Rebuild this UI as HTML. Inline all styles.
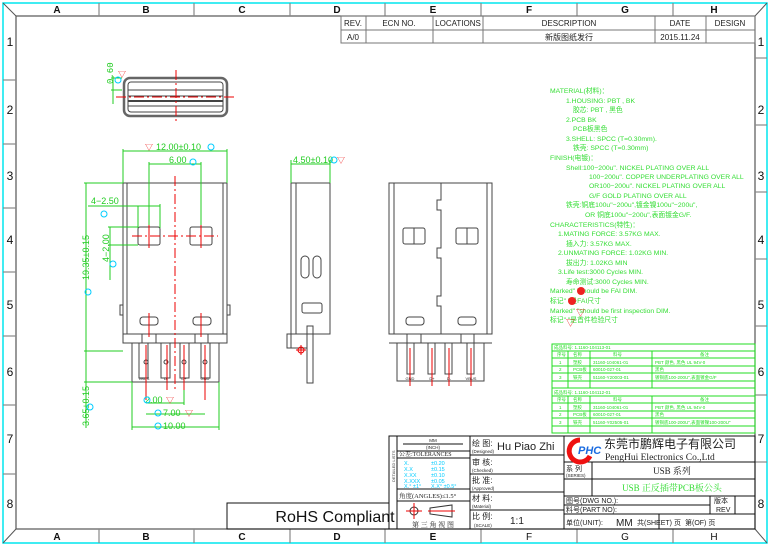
<!DOCTYPE html>
<html><head><meta charset="utf-8"><style>
html,body{margin:0;padding:0;background:#fff}
svg{display:block}
text{font-family:"Liberation Sans","Noto Sans CJK SC",sans-serif}
.s{font-family:"Liberation Serif","Noto Serif CJK SC",serif}
.m{font-family:"Liberation Mono","Noto Sans CJK SC",monospace}
</style></head><body>
<svg width="770" height="546" viewBox="0 0 770 546" xmlns="http://www.w3.org/2000/svg">
<!-- frame -->
<rect x="3" y="3" width="764" height="540" fill="none" stroke="#00e5ee" stroke-width="1.5"/>
<rect x="16" y="16" width="739" height="513" fill="none" stroke="#555" stroke-width="1.2"/>
<line x1="3" y1="3" x2="16" y2="16" stroke="#555"/><line x1="767" y1="3" x2="755" y2="16" stroke="#555"/>
<line x1="3" y1="543" x2="16" y2="529" stroke="#555"/><line x1="767" y1="543" x2="755" y2="529" stroke="#555"/>
<g stroke="#888" stroke-width="1.2">
<line x1="99" y1="3" x2="99" y2="16"/><line x1="194" y1="3" x2="194" y2="16"/><line x1="290" y1="3" x2="290" y2="16"/><line x1="385" y1="3" x2="385" y2="16"/><line x1="481" y1="3" x2="481" y2="16"/><line x1="577" y1="3" x2="577" y2="16"/><line x1="673" y1="3" x2="673" y2="16"/>
<line x1="99" y1="529" x2="99" y2="543"/><line x1="194" y1="529" x2="194" y2="543"/><line x1="290" y1="529" x2="290" y2="543"/><line x1="385" y1="529" x2="385" y2="543"/><line x1="481" y1="529" x2="481" y2="543"/><line x1="577" y1="529" x2="577" y2="543"/><line x1="673" y1="529" x2="673" y2="543"/>
<line x1="3" y1="80" x2="16" y2="80"/><line x1="3" y1="144" x2="16" y2="144"/><line x1="3" y1="208" x2="16" y2="208"/><line x1="3" y1="272" x2="16" y2="272"/><line x1="3" y1="336" x2="16" y2="336"/><line x1="3" y1="405" x2="16" y2="405"/><line x1="3" y1="474" x2="16" y2="474"/>
<line x1="755" y1="58" x2="767" y2="58"/><line x1="755" y1="125" x2="767" y2="125"/><line x1="755" y1="192" x2="767" y2="192"/><line x1="755" y1="259" x2="767" y2="259"/><line x1="755" y1="326" x2="767" y2="326"/><line x1="755" y1="395" x2="767" y2="395"/><line x1="755" y1="462" x2="767" y2="462"/>
</g>
<g font-size="10" font-weight="bold" text-anchor="middle" fill="#111">
<text x="57" y="13">A</text><text x="146" y="13">B</text><text x="242" y="13">C</text><text x="337" y="13">D</text><text x="433" y="13">E</text><text x="529" y="13">F</text><text x="625" y="13">G</text><text x="714" y="13">H</text>
<text x="57" y="540">A</text><text x="146" y="540">B</text><text x="242" y="540">C</text><text x="337" y="540">D</text><text x="433" y="540">E</text><text x="529" y="540" font-weight="normal">F</text><text x="625" y="540" font-weight="normal">G</text><text x="714" y="540" font-weight="normal">H</text>
</g>
<g font-size="12" text-anchor="middle" fill="#111">
<text x="10" y="46">1</text><text x="10" y="114">2</text><text x="10" y="180">3</text><text x="10" y="244">4</text><text x="10" y="309">5</text><text x="10" y="376">6</text><text x="10" y="443">7</text><text x="10" y="508">8</text>
<text x="761" y="46">1</text><text x="761" y="114">2</text><text x="761" y="180">3</text><text x="761" y="244">4</text><text x="761" y="309">5</text><text x="761" y="376">6</text><text x="761" y="443">7</text><text x="761" y="508">8</text>
</g>
<!-- revision table -->
<g stroke="#777" fill="none">
<rect x="341" y="16" width="414" height="27"/>
<line x1="341" y1="30" x2="755" y2="30"/>
<line x1="366" y1="16" x2="366" y2="43"/><line x1="433" y1="16" x2="433" y2="43"/><line x1="483" y1="16" x2="483" y2="43"/><line x1="655" y1="16" x2="655" y2="43"/><line x1="706" y1="16" x2="706" y2="43"/>
</g>
<g font-size="8" fill="#222" text-anchor="middle">
<text x="353" y="26">REV.</text><text x="399" y="26">ECN  NO.</text><text x="458" y="26">LOCATIONS</text><text x="569" y="26">DESCRIPTION</text><text x="680" y="26">DATE</text><text x="730" y="26">DESIGN</text>
<text x="353" y="40">A/0</text><text x="569" y="40">新版图纸发行</text><text x="680" y="40">2015.11.24</text>
</g>
<!-- top view -->
<g fill="none" stroke="#444">
<rect x="124" y="78" width="103" height="38" rx="6" stroke-width="2.5" stroke="#666"/>
<rect x="128" y="82" width="95" height="30" rx="3"/>
<line x1="128" y1="90" x2="223" y2="90"/><line x1="128" y1="96" x2="223" y2="96"/><line x1="128" y1="101" x2="223" y2="101" stroke-width="2"/><line x1="128" y1="106" x2="223" y2="106"/>
</g>
<g stroke="#e00" stroke-dasharray="10,3,2,3"><line x1="176" y1="70" x2="176" y2="124"/><line x1="116" y1="97" x2="236" y2="97"/></g>
<g stroke="#2c2"><line x1="111" y1="78" x2="122" y2="78"/><line x1="111" y1="90" x2="122" y2="90"/><line x1="113" y1="76" x2="113" y2="104"/></g>
<text x="113" y="84" font-size="9" fill="#2c2" transform="rotate(-90 113 84)" class="m">0.60</text>
<text x="118" y="77" font-size="8" fill="#e22">▽</text><circle cx="118" cy="80" r="3" fill="none" stroke="#0cf"/>
<!-- front view -->
<g fill="none" stroke="#444">
<rect x="123" y="183" width="104" height="160"/>
<line x1="127" y1="183" x2="127" y2="334"/><line x1="223" y1="183" x2="223" y2="334"/>
<line x1="123" y1="334" x2="227" y2="334"/>
<rect x="138" y="227" width="22" height="18" rx="2"/><rect x="190" y="227" width="22" height="18" rx="2"/>
<rect x="140" y="317" width="18" height="8" rx="3"/><rect x="193" y="317" width="18" height="8" rx="3"/>
<rect x="120" y="305" width="3" height="10"/><rect x="227" y="305" width="3" height="10"/>
<path d="M132 343 V382 H219 V343"/>
<path d="M139 343 V378 H148 V343 M161 343 V378 H170 V343 M180 343 V378 H189 V343 M201 343 V378 H210 V343"/>
<line x1="142" y1="334" x2="142" y2="343"/><line x1="156" y1="334" x2="156" y2="343"/><line x1="195" y1="334" x2="195" y2="343"/><line x1="208" y1="334" x2="208" y2="343"/>
<circle cx="146" cy="362" r="2"/><circle cx="166" cy="362" r="2"/><circle cx="184" cy="362" r="2"/><circle cx="205" cy="362" r="2"/>
</g>
<g font-size="4" fill="#222" text-anchor="middle"><text x="144" y="380">VBUS</text><text x="166" y="380">D-</text><text x="184" y="380">D+</text><text x="205" y="380">GND</text></g>
<g stroke="#e00" stroke-dasharray="10,3,2,3"><line x1="175" y1="176" x2="175" y2="392"/><line x1="132" y1="236" x2="218" y2="236"/></g>
<g stroke="#e00"><line x1="149" y1="224" x2="149" y2="248"/><line x1="201" y1="224" x2="201" y2="248"/><line x1="149" y1="313" x2="149" y2="337"/><line x1="201" y1="313" x2="201" y2="337"/><line x1="146" y1="345" x2="146" y2="400"/><line x1="167" y1="345" x2="167" y2="390"/><line x1="184" y1="345" x2="184" y2="390"/><line x1="205" y1="345" x2="205" y2="400"/></g>
<g stroke="#2c2" fill="none">
<line x1="123" y1="151" x2="227" y2="151"/><line x1="123" y1="149" x2="123" y2="183"/><line x1="227" y1="149" x2="227" y2="183"/>
<line x1="149" y1="164" x2="201" y2="164"/><line x1="149" y1="162" x2="149" y2="225"/><line x1="201" y1="162" x2="201" y2="225"/>
<line x1="88" y1="206" x2="160" y2="206"/><line x1="138" y1="206" x2="138" y2="228"/><line x1="160" y1="204" x2="160" y2="228"/>
<line x1="108" y1="227" x2="138" y2="227"/><line x1="108" y1="245" x2="138" y2="245"/><line x1="110" y1="227" x2="110" y2="280"/>
<line x1="84" y1="183" x2="123" y2="183"/><line x1="84" y1="351" x2="123" y2="351"/><line x1="86" y1="183" x2="86" y2="428"/>
<line x1="84" y1="382" x2="132" y2="382"/>
<line x1="132" y1="382" x2="132" y2="430"/><line x1="219" y1="382" x2="219" y2="430"/><line x1="132" y1="427" x2="219" y2="427"/>
<line x1="146" y1="414" x2="205" y2="414"/><line x1="146" y1="403" x2="184" y2="403"/><line x1="184" y1="390" x2="184" y2="405"/>
</g>
<g font-size="9" fill="#2c2" class="m">
<text x="156" y="150">12.00±0.10</text><text x="169" y="163">6.00</text>
<text x="91" y="204">4−2.50</text>
<text x="109" y="262" transform="rotate(-90 109 262)">4−2.00</text>
<text x="89" y="280" transform="rotate(-90 89 280)">19.35±0.15</text>
<text x="89" y="426" transform="rotate(-90 89 426)">3.65±0.15</text>
<text x="145" y="403">2.00</text><text x="163" y="416">7.00</text><text x="163" y="429">10.00</text>
<text x="293" y="163">4.50±0.10</text>
</g>
<g fill="none" stroke="#0cf"><circle cx="211" cy="147" r="3"/><circle cx="193" cy="162" r="3"/><circle cx="104" cy="214" r="3"/><circle cx="113" cy="264" r="3"/><circle cx="88" cy="292" r="3"/><circle cx="90" cy="407" r="3"/><circle cx="147" cy="400" r="3"/><circle cx="158" cy="413" r="3"/><circle cx="158" cy="426" r="3"/><circle cx="334" cy="160" r="3"/></g>
<g font-size="8" fill="#e22"><text x="145" y="150">▽</text><text x="166" y="403">▽</text><text x="185" y="416">▽</text><text x="337" y="163">▽</text></g>
<!-- side view -->
<g fill="none" stroke="#444">
<rect x="291" y="183" width="39" height="151"/><line x1="296" y1="183" x2="296" y2="334"/>
<rect x="307" y="326" width="6" height="57"/>
<rect x="287" y="334" width="4" height="14"/><line x1="287" y1="348" x2="307" y2="348"/>
<rect x="301" y="256" width="8" height="22" rx="4"/><rect x="313" y="256" width="8" height="22" rx="4"/>
<rect x="302" y="303" width="20" height="10" rx="2"/>
</g>
<g stroke="#e00"><line x1="296" y1="350" x2="306" y2="350"/><line x1="301" y1="345" x2="301" y2="355"/></g><circle cx="301" cy="350" r="3" fill="none" stroke="#e00"/>
<g stroke="#2c2"><line x1="291" y1="164" x2="330" y2="164"/><line x1="291" y1="160" x2="291" y2="183"/><line x1="330" y1="160" x2="330" y2="183"/></g>
<!-- rear view -->
<g fill="none" stroke="#444">
<rect x="389" y="183" width="103" height="151"/><line x1="394" y1="183" x2="394" y2="334"/><line x1="487" y1="183" x2="487" y2="334"/>
<path d="M441 183 V200 h-4 v10 h4 V248 h-4 v10 h4 V296 h-4 v10 h4 V334"/>
<rect x="403" y="228" width="22" height="16" rx="2"/><rect x="456" y="228" width="22" height="16" rx="2"/>
<line x1="414" y1="228" x2="414" y2="244"/><line x1="467" y1="228" x2="467" y2="244"/>
<rect x="406" y="317" width="18" height="8" rx="3"/><rect x="458" y="317" width="18" height="8" rx="3"/>
<path d="M397 343 V381 H484 V343"/><line x1="389" y1="343" x2="492" y2="343"/>
<path d="M407 343 V374 H414 V343 M428 343 V374 H435 V343 M445 343 V374 H452 V343 M467 343 V374 H474 V343"/>
<line x1="407" y1="334" x2="407" y2="343"/><line x1="421" y1="334" x2="421" y2="343"/><line x1="461" y1="334" x2="461" y2="343"/><line x1="474" y1="334" x2="474" y2="343"/>
</g>
<g stroke="#e00"><line x1="410" y1="348" x2="410" y2="386"/><line x1="432" y1="348" x2="432" y2="386"/><line x1="449" y1="348" x2="449" y2="386"/><line x1="471" y1="348" x2="471" y2="386"/></g>
<g font-size="4" fill="#222" text-anchor="middle"><text x="410" y="380">GND</text><text x="432" y="380">D+</text><text x="449" y="380">D-</text><text x="471" y="380">VBUS</text></g>
<!-- notes -->
<g font-size="6.8" fill="#33dd33" class="m">
<text x="550" y="93">MATERIAL(材料)：</text>
<text x="566" y="103">1.HOUSING: PBT , BK</text>
<text x="573" y="112">胶芯:  PBT , 黑色</text>
<text x="566" y="122">2.PCB  BK</text>
<text x="573" y="131">PCB板黑色</text>
<text x="566" y="141">3.SHELL: SPCC (T=0.30mm).</text>
<text x="573" y="150">铁壳: SPCC  (T=0.30mm)</text>
<text x="550" y="160">FINISH(电镀)：</text>
<text x="566" y="170">Shell:100−200u". NICKEL PLATING OVER ALL</text>
<text x="589" y="179">100−200u". COPPER UNDERPLATING OVER ALL</text>
<text x="589" y="188">OR100−200u". NICKEL PLATING OVER ALL</text>
<text x="589" y="198">G/F GOLD PLATING OVER ALL</text>
<text x="566" y="207">铁壳:铜底100u"−200u",镀金镍100u"−200u",</text>
<text x="585" y="217">OR 铜底100u"−200u",表面镀金G/F.</text>
<text x="550" y="227">CHARACTERISTICS(特性)：</text>
<text x="558" y="236">1.MATING FORCE: 3.57KG MAX.</text>
<text x="566" y="246">插入力: 3.57KG MAX.</text>
<text x="558" y="255">2.UNMATING FORCE: 1.02KG MIN.</text>
<text x="566" y="265">拔出力: 1.02KG MIN</text>
<text x="558" y="274">3.Life test:3000 Cycles MIN.</text>
<text x="566" y="284">寿命测试:3000 Cycles MIN.</text>
<text x="550" y="293">Marked"    "should be FAI DIM.</text>
<text x="550" y="303">标记"    "是FAI尺寸</text>
<text x="550" y="313">Marked"   "should be first inspection DIM.</text>
<text x="550" y="322">标记"   "是首件检验尺寸</text>
</g>
<circle cx="581" cy="291" r="4" fill="#e22"/><circle cx="572" cy="301" r="4" fill="#e22"/>
<g font-size="9" fill="#e22"><text x="576" y="316">▽</text><text x="566" y="326">▽</text></g>
<!-- green table -->
<g stroke="#2d2" fill="none">
<rect x="552" y="344" width="203" height="89"/>
<line x1="552" y1="351" x2="755" y2="351"/><line x1="552" y1="358" x2="755" y2="358"/><line x1="552" y1="366" x2="755" y2="366"/><line x1="552" y1="373" x2="755" y2="373"/><line x1="552" y1="381" x2="755" y2="381"/><line x1="552" y1="388" x2="755" y2="388"/><line x1="552" y1="396" x2="755" y2="396"/><line x1="552" y1="403" x2="755" y2="403"/><line x1="552" y1="411" x2="755" y2="411"/><line x1="552" y1="418" x2="755" y2="418"/><line x1="552" y1="426" x2="755" y2="426"/>
<path d="M568 351V388 M590 351V388 M652 351V388 M568 396V433 M590 396V433 M652 396V433"/>
</g>
<g font-size="4.5" fill="#2d2">
<text x="554" y="349">成品料号: 1.1160-104113-01</text>
<text x="557" y="356">序号</text><text x="573" y="356">名称</text><text x="613" y="356">料号</text><text x="700" y="356">备注</text>
<text x="559" y="364">1</text><text x="573" y="364">塑胶</text><text x="593" y="364">31160-104061-01</text><text x="655" y="364">PBT 颜色, 黑色 UL 94V-0</text>
<text x="559" y="371">2</text><text x="573" y="371">PCB板</text><text x="593" y="371">60010-027-01</text><text x="655" y="371">黑色</text>
<text x="559" y="379">3</text><text x="573" y="379">铁壳</text><text x="593" y="379">51160-Y20003-01</text><text x="655" y="379">镀铜底100-200U",表面镀金G/F</text>
<text x="554" y="394">成品料号: 1.1160-104112-01</text>
<text x="557" y="401">序号</text><text x="573" y="401">名称</text><text x="613" y="401">料号</text><text x="700" y="401">备注</text>
<text x="559" y="409">1</text><text x="573" y="409">塑胶</text><text x="593" y="409">31160-104061-01</text><text x="655" y="409">PBT 颜色, 黑色 UL 94V-0</text>
<text x="559" y="416">2</text><text x="573" y="416">PCB板</text><text x="593" y="416">60010-027-01</text><text x="655" y="416">黑色</text>
<text x="559" y="424">3</text><text x="573" y="424">铁壳</text><text x="593" y="424">51160-Y02505-01</text><text x="655" y="424">镀铜底100-200U",表面镀镍100-200U"</text>
</g>
<!-- title block -->
<g stroke="#111" fill="none" stroke-width="1">
<rect x="227" y="503" width="162" height="26"/>
<rect x="389" y="436" width="366" height="93"/>
<line x1="397" y1="436" x2="397" y2="529"/><line x1="470" y1="436" x2="470" y2="529"/><line x1="564" y1="436" x2="564" y2="529"/>
<line x1="397" y1="451" x2="470" y2="451"/><line x1="397" y1="458" x2="470" y2="458"/><line x1="397" y1="489" x2="470" y2="489"/><line x1="397" y1="501" x2="470" y2="501"/>
<line x1="470" y1="455" x2="564" y2="455"/><line x1="470" y1="474" x2="564" y2="474"/><line x1="470" y1="492" x2="564" y2="492"/><line x1="470" y1="510" x2="564" y2="510"/>
<line x1="564" y1="462" x2="755" y2="462"/><line x1="564" y1="479" x2="755" y2="479"/><line x1="564" y1="496" x2="755" y2="496"/><line x1="564" y1="505" x2="710" y2="505"/><line x1="564" y1="514" x2="755" y2="514"/>
<line x1="592" y1="462" x2="592" y2="496"/><line x1="710" y1="496" x2="710" y2="514"/><line x1="735" y1="496" x2="735" y2="514"/>
<line x1="659" y1="514" x2="659" y2="529"/>
</g>
<text x="335" y="522" font-size="16" text-anchor="middle" fill="#111">RoHS  Compliant</text>
<text x="395" y="482" font-size="4" fill="#333" transform="rotate(-90 395 482)">DETAILED LISTS</text>
<g font-size="4.5" fill="#222" text-anchor="middle" class="s"><text x="433" y="442">MM</text><text x="433" y="449">(INCH)</text></g>
<g stroke="#111"><line x1="403" y1="444" x2="463" y2="444"/></g>
<text x="399" y="456" font-size="6" fill="#222" class="s">公差:TOLERANCES</text>
<g font-size="5.5" fill="#0cf" class="s">
<text x="404" y="465">X.</text><text x="431" y="465">±0.20</text>
<text x="404" y="471">X.X</text><text x="431" y="471">±0.15</text>
<text x="404" y="477">X.XX</text><text x="431" y="477">±0.10</text>
<text x="404" y="483">X.XXX</text><text x="431" y="483">±0.05</text>
<text x="404" y="488">X.° ±1°</text><text x="431" y="488">X.X° ±0.5°</text>
</g>
<text x="399" y="498" font-size="6.5" fill="#222" class="s">角度(ANGLES)≤1.5°</text>
<circle cx="414" cy="511" r="4" fill="none" stroke="#333"/><line x1="406" y1="511" x2="422" y2="511" stroke="#e00"/><line x1="414" y1="503" x2="414" y2="519" stroke="#e00"/>
<path d="M430 508 L452 505 V517 L430 514Z" fill="none" stroke="#333"/><line x1="428" y1="511" x2="455" y2="511" stroke="#e00"/>
<text x="433" y="527" font-size="7" fill="#222" text-anchor="middle" class="s">第 三 角 视 图</text>
<g fill="#222" class="s">
<text x="472" y="446" font-size="8">绘 图:</text><text x="472" y="453" font-size="4.5">(Designed)</text>
<text x="497" y="450" font-size="11">Hu Piao Zhi</text>
<text x="472" y="465" font-size="8">审 核:</text><text x="472" y="472" font-size="4.5">(Checked)</text>
<text x="472" y="483" font-size="8">批 准:</text><text x="472" y="490" font-size="4.5">(Approved)</text>
<text x="472" y="501" font-size="8">材 料:</text><text x="472" y="508" font-size="4.5">(Material)</text>
<text x="472" y="519" font-size="8">比 例:</text><text x="474" y="527" font-size="4.5">(SCALE)</text>
<text x="510" y="524" font-size="10">1:1</text>
</g>
<path d="M580 440 a11 11 0 1 0 10 16" fill="none" stroke="#e11" stroke-width="5"/>
<text x="578" y="454" font-size="11" font-weight="bold" font-style="italic" fill="#1a6be0">PHC</text>
<text x="604" y="448" font-size="12" fill="#222">东莞市鹏辉电子有限公司</text>
<text x="605" y="460" font-size="9.5" fill="#222" class="s">PengHui Electronics Co.,Ltd</text>
<text x="566" y="471" font-size="7" fill="#222">系 列</text><text x="566" y="477" font-size="4.5" fill="#222">(SERIES)</text>
<text x="672" y="474" font-size="9" fill="#222" text-anchor="middle" class="s">USB 系列</text>
<text x="672" y="491" font-size="9" fill="#33dd33" text-anchor="middle" class="s">USB  正反插带PCB板公头</text>
<g font-size="7" fill="#222" class="s">
<text x="566" y="503">图号(DWG NO.):</text><text x="566" y="512">料号(PART NO):</text>
<text x="714" y="503">版本</text><text x="716" y="512">REV</text>
<text x="566" y="525">单位(UNIT):</text><text x="616" y="526" font-size="10">MM</text>
<text x="637" y="525">共(SHEET)  页</text><text x="685" y="525">第(OF)  页</text>
</g>
</svg>
</body></html>
